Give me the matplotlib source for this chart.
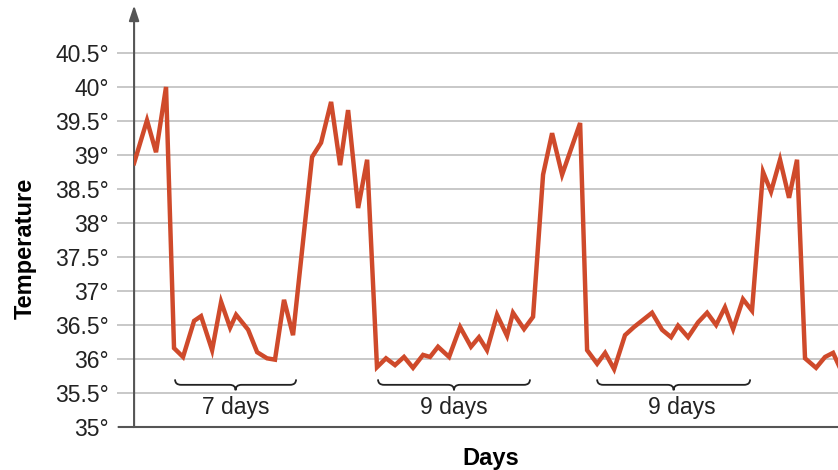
import matplotlib
matplotlib.use('Agg')
import matplotlib.pyplot as plt
from matplotlib.path import Path
from matplotlib.patches import PathPatch

# twice-daily readings (day number, temperature in degrees C)
days = [0.0, 0.76, 1.29, 1.88, 2.35, 2.88, 3.53, 3.94, 4.59, 5.12, 5.65, 6.0,
        6.71, 7.24, 7.82, 8.29, 8.82, 9.35, 10.47, 11.0, 11.59, 12.12, 12.59,
        13.18, 13.71, 14.29, 14.82, 15.35, 15.88, 16.41, 17.0, 17.41, 17.88,
        18.53, 19.18, 19.82, 20.29, 20.76, 21.35, 21.94, 22.29, 22.94, 23.47,
        24.06, 24.59, 25.18, 26.24, 26.65, 27.24, 27.71, 28.24, 28.88, 29.41,
        30.47, 31.06, 31.59, 32.0, 32.59, 33.18, 33.71, 34.24, 34.76, 35.24,
        35.82, 36.35, 37.0, 37.47, 38.0, 38.53, 39.0, 39.47, 40.12, 40.65,
        41.12, 41.65]
temps = [38.88, 39.51, 39.04, 40.0, 36.16, 36.03, 36.56, 36.63, 36.13, 36.84,
         36.46, 36.65, 36.43, 36.10, 36.01, 35.99, 36.87, 36.35, 38.97, 39.18,
         39.78, 38.85, 39.66, 38.22, 38.93, 35.88, 36.01, 35.91, 36.03, 35.87,
         36.06, 36.03, 36.18, 36.03, 36.47, 36.18, 36.32, 36.13, 36.65, 36.34,
         36.68, 36.44, 36.62, 38.71, 39.32, 38.71, 39.47, 36.13, 35.93, 36.09,
         35.85, 36.35, 36.47, 36.68, 36.43, 36.32, 36.49, 36.32, 36.54, 36.68,
         36.50, 36.76, 36.44, 36.88, 36.71, 38.75, 38.46, 38.93, 38.37, 38.93,
         36.01, 35.87, 36.03, 36.09, 35.80]

yticks = [35, 35.5, 36, 36.5, 37, 37.5, 38, 38.5, 39, 39.5, 40, 40.5]
ytick_labels = ['35°', '35.5°', '36°', '36.5°', '37°', '37.5°', '38°',
                '38.5°', '39°', '39.5°', '40°', '40.5°']

# braces marking the low-temperature stretches
brace_start = [2.41, 14.35, 27.24]
brace_end = [9.53, 23.29, 36.24]
brace_labels = ['7 days', '9 days', '9 days']
label_x = [5.99, 18.8, 32.2]

plt.rcParams['font.family'] = ['Liberation Sans', 'DejaVu Sans']

fig = plt.figure(figsize=(8.38, 4.70), dpi=100)
ax = fig.add_axes([0.16, 0.0915, 0.84, 0.887])

ax.set_xlim(0, 41.41)
ax.set_ylim(35, 41.13)

ax.set_yticks(yticks)
ax.set_yticklabels(ytick_labels, fontsize=16.5, color='#222222')
ax.set_xticks([])
ax.grid(axis='y', color='#c4c4c4', linewidth=1.3)
ax.set_axisbelow(True)
ax.tick_params(axis='y', length=12, width=1.3, color='#c4c4c4', pad=6)

for s in ['top', 'right', 'left']:
    ax.spines[s].set_visible(False)
ax.spines['bottom'].set_color('#555555')
ax.spines['bottom'].set_linewidth(1.5)

# extend the x axis line to the left like the tick marks
ax.plot([-0.95, 0], [35, 35], color='#555555', lw=1.5, clip_on=False,
        solid_capstyle='butt')

# y axis with arrow
ax.annotate('', xy=(0, 41.2), xytext=(0, 35), annotation_clip=False,
            arrowprops=dict(arrowstyle='-|>,head_length=0.9,head_width=0.3',
                            color='#555555', lw=1.5, shrinkA=0, shrinkB=0))

ax.plot(days, temps, color='#cf4a2b', lw=3.2, solid_joinstyle='miter',
        zorder=3)

# braces
y0 = 35.62
h = 0.08
r = 0.35
for x0, x1, lab, lx in zip(brace_start, brace_end, brace_labels, label_x):
    xm = (x0 + x1) / 2
    verts = [(x0, y0 + h), (x0, y0), (x0 + r, y0),
             (xm - r, y0), (xm, y0), (xm, y0 - h),
             (xm, y0), (xm + r, y0),
             (x1 - r, y0), (x1, y0), (x1, y0 + h)]
    codes = [Path.MOVETO, Path.CURVE3, Path.CURVE3,
             Path.LINETO, Path.CURVE3, Path.CURVE3,
             Path.CURVE3, Path.CURVE3,
             Path.LINETO, Path.CURVE3, Path.CURVE3]
    ax.add_patch(PathPatch(Path(verts, codes), fill=False, lw=1.3,
                           edgecolor='#222222', zorder=4))
    ax.text(lx, 35.28, lab, ha='center', va='center', fontsize=16.5,
            color='#222222')

fig.text(25 / 838, 1 - 248 / 470, 'Temperature', rotation=90, ha='center',
         va='center', fontsize=17, fontweight='bold')
fig.text(491 / 838, 1 - 458 / 470, 'Days', ha='center', va='center',
         fontsize=17, fontweight='bold')

fig.savefig('out.png', dpi=100)
